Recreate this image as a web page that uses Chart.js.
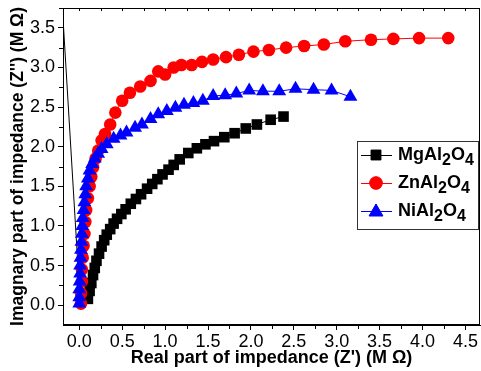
<!DOCTYPE html>
<html>
<head>
<meta charset="utf-8">
<script src="https://cdn.jsdelivr.net/npm/chart.js@4.4.1/dist/chart.umd.min.js"></script>
<style>
  html, body { margin: 0; padding: 0; background: #fff; }
  #wrap { width: 481px; height: 371px; }
</style>
</head>
<body>
<div id="wrap"><canvas id="zChart" width="481" height="371"></canvas></div>
<script>
// Nyquist plot data (M Ohm)
const seriesNames = ['MgAl2O4', 'ZnAl2O4', 'NiAl2O4'];
const seriesColors = ['#000000', '#ff0000', '#0000ff'];

const mgX = [-0.2, 0.01, 0.10, 0.12, 0.14, 0.16, 0.18, 0.20, 0.23, 0.26, 0.29, 0.32, 0.36, 0.40, 0.44, 0.49, 0.54, 0.60, 0.66, 0.72, 0.79, 0.85, 0.91, 0.97, 1.04, 1.10, 1.17, 1.27, 1.37, 1.47, 1.57, 1.69, 1.81, 1.94, 2.07, 2.23, 2.38];
const mgY = [3.8, 0.03, 0.08, 0.18, 0.28, 0.38, 0.47, 0.56, 0.65, 0.74, 0.82, 0.89, 0.96, 1.03, 1.09, 1.15, 1.21, 1.28, 1.34, 1.40, 1.47, 1.53, 1.59, 1.65, 1.71, 1.77, 1.84, 1.92, 1.98, 2.03, 2.07, 2.12, 2.17, 2.23, 2.28, 2.34, 2.38];

const znX = [0.02, 0.02, 0.03, 0.03, 0.04, 0.05, 0.06, 0.07, 0.08, 0.10, 0.12, 0.14, 0.16, 0.19, 0.22, 0.26, 0.30, 0.36, 0.42, 0.50, 0.59, 0.71, 0.83, 0.92, 1.00, 1.10, 1.19, 1.31, 1.43, 1.56, 1.71, 1.86, 2.03, 2.21, 2.41, 2.62, 2.85, 3.10, 3.40, 3.66, 3.96, 4.30];
const znY = [0.02, 0.15, 0.30, 0.45, 0.60, 0.75, 0.90, 1.05, 1.20, 1.35, 1.50, 1.62, 1.74, 1.85, 1.95, 2.08, 2.16, 2.28, 2.43, 2.58, 2.68, 2.76, 2.83, 2.95, 2.91, 3.00, 3.03, 3.03, 3.07, 3.10, 3.13, 3.16, 3.20, 3.22, 3.25, 3.27, 3.29, 3.33, 3.35, 3.36, 3.37, 3.37];

const niX = [0.0, 0.0, 0.0, 0.005, 0.01, 0.01, 0.015, 0.02, 0.025, 0.03, 0.035, 0.04, 0.05, 0.06, 0.07, 0.08, 0.10, 0.12, 0.15, 0.18, 0.22, 0.26, 0.32, 0.40, 0.48, 0.55, 0.65, 0.73, 0.83, 0.92, 1.02, 1.12, 1.22, 1.33, 1.44, 1.56, 1.70, 1.83, 1.98, 2.14, 2.33, 2.52, 2.73, 2.94, 3.16];
const niY = [0.02, 0.10, 0.20, 0.30, 0.40, 0.50, 0.60, 0.70, 0.80, 0.90, 1.00, 1.10, 1.20, 1.30, 1.40, 1.50, 1.60, 1.70, 1.78, 1.85, 1.91, 1.97, 2.03, 2.10, 2.14, 2.18, 2.24, 2.28, 2.35, 2.41, 2.45, 2.49, 2.53, 2.55, 2.58, 2.64, 2.65, 2.67, 2.71, 2.70, 2.70, 2.73, 2.72, 2.71, 2.63];

const xTicks = [0, 0.5, 1.0, 1.5, 2.0, 2.5, 3.0, 3.5, 4.0, 4.5];
const yTicks = [0, 0.5, 1.0, 1.5, 2.0, 2.5, 3.0, 3.5];

const toPoints = (xs, ys) => xs.map((x, i) => ({ x: x, y: ys[i] }));
const FONT = "'Liberation Sans', Arial, sans-serif";

// frame, minor ticks, top ticks
const framePlugin = {
    id: 'frame',
    afterDraw(chart) {
        const { ctx, chartArea: a, scales } = chart;
        ctx.save();
        ctx.strokeStyle = '#000';
        ctx.lineWidth = 1;
        ctx.strokeRect(a.left + 0.5, a.top + 0.5, a.right - a.left - 1, a.bottom - a.top - 1);
        ctx.beginPath();
        for (let v = -0.25; v <= 4.75; v += 0.25) {
            const px = Math.round(scales.x.getPixelForValue(v)) + 0.5;
            if (px < a.left || px > a.right) continue;
            const major = Math.abs(v * 2 - Math.round(v * 2)) < 1e-6;
            if (!major) {
                ctx.moveTo(px, a.bottom);
                ctx.lineTo(px, a.bottom + 4);
            }
            ctx.moveTo(px, a.top);
            ctx.lineTo(px, a.top + 3);
        }
        for (let v = -0.25; v <= 3.75; v += 0.25) {
            const py = Math.round(scales.y.getPixelForValue(v)) + 0.5;
            if (py < a.top || py > a.bottom) continue;
            const major = Math.abs(v * 2 - Math.round(v * 2)) < 1e-6;
            if (!major) {
                ctx.moveTo(a.left, py);
                ctx.lineTo(a.left - 4, py);
            }
        }
        ctx.stroke();
        ctx.restore();
    }
};

function drawFormula(ctx, text, x, y) {
    // digits drawn as subscripts
    let cx = x;
    for (const ch of text) {
        const sub = /[0-9]/.test(ch);
        ctx.font = sub ? 'bold 16px ' + FONT : 'bold 18px ' + FONT;
        ctx.fillText(ch, cx, sub ? y + 6 : y);
        cx += ctx.measureText(ch).width;
    }
}

const legendPlugin = {
    id: 'boxLegend',
    afterDraw(chart) {
        const { ctx } = chart;
        const box = { left: 357, top: 141, width: 121, height: 88 };
        const styles = ['rect', 'circle', 'triangle'];
        const radii = [7, 6.3, 8];
        ctx.save();
        ctx.fillStyle = '#fff';
        ctx.fillRect(box.left, box.top, box.width, box.height);
        ctx.strokeStyle = '#333';
        ctx.lineWidth = 1;
        ctx.strokeRect(box.left + 0.5, box.top + 0.5, box.width, box.height);
        seriesNames.forEach((name, i) => {
            const y = box.top + 14 + i * 28;
            ctx.strokeStyle = seriesColors[i];
            ctx.lineWidth = 1;
            ctx.beginPath();
            ctx.moveTo(box.left + 4, y + 0.5);
            ctx.lineTo(box.left + 35, y + 0.5);
            ctx.stroke();
            ctx.fillStyle = seriesColors[i];
            Chart.helpers.drawPoint(ctx, { pointStyle: styles[i], radius: radii[i], rotation: 0, borderWidth: 1 }, box.left + 19, y + (i === 2 ? 1 : 0));
            ctx.fill();
            ctx.fillStyle = '#000';
            ctx.textBaseline = 'middle';
            ctx.textAlign = 'left';
            drawFormula(ctx, name, box.left + 41, y);
        });
        ctx.restore();
    }
};

const noPad = s => { s.paddingTop = 0; s.paddingBottom = 0; s.paddingLeft = 0; s.paddingRight = 0; };

const ctx = document.getElementById('zChart').getContext('2d');
const zChart = new Chart(ctx, {
    type: 'scatter',
    data: {
        datasets: [
            {
                label: seriesNames[0],
                data: toPoints(mgX, mgY),
                showLine: true,
                borderColor: seriesColors[0],
                backgroundColor: seriesColors[0],
                borderWidth: 1,
                pointStyle: 'rect',
                pointRadius: c => (c.dataIndex < 2 ? 0 : 7.5),
                pointBorderWidth: 0,
                order: 3
            },
            {
                label: seriesNames[1],
                data: toPoints(znX, znY),
                showLine: true,
                borderColor: seriesColors[1],
                backgroundColor: seriesColors[1],
                borderWidth: 1,
                pointStyle: 'circle',
                pointRadius: 6.3,
                pointBorderWidth: 0,
                order: 2
            },
            {
                label: seriesNames[2],
                data: toPoints(niX, niY),
                showLine: true,
                borderColor: seriesColors[2],
                backgroundColor: seriesColors[2],
                borderWidth: 1,
                pointStyle: 'triangle',
                pointRadius: 8,
                pointBorderWidth: 0,
                order: 1
            }
        ]
    },
    options: {
        responsive: false,
        animation: false,
        layout: { autoPadding: false, padding: { top: 8, right: 1, left: 0, bottom: 0 } },
        plugins: {
            legend: { display: false },
            tooltip: { enabled: false }
        },
        scales: {
            x: {
                type: 'linear',
                min: -0.19,
                max: 4.67,
                afterBuildTicks: s => { s.ticks = xTicks.map(v => ({ value: v })); },
                afterFit: s => { s.height = 46; noPad(s); },
                grid: { drawOnChartArea: false, drawTicks: true, tickLength: 5, color: '#000' },
                border: { color: '#000', width: 1 },
                ticks: {
                    color: '#000',
                    font: { family: FONT, size: 18 },
                    padding: 1,
                    maxRotation: 0,
                    callback: v => v.toFixed(1)
                },
                title: {
                    display: true,
                    text: "Real part of impedance (Z') (M \u03A9)",
                    color: '#000',
                    font: { family: FONT, size: 18, weight: 'bold' },
                    padding: { top: 0, bottom: 2 }
                }
            },
            y: {
                type: 'linear',
                min: -0.25,
                max: 3.75,
                afterBuildTicks: s => { s.ticks = yTicks.map(v => ({ value: v })); },
                afterFit: s => { s.width = 63; noPad(s); },
                grid: { drawOnChartArea: false, drawTicks: true, tickLength: 5, color: '#000' },
                border: { color: '#000', width: 1 },
                ticks: {
                    color: '#000',
                    font: { family: FONT, size: 18 },
                    padding: 3,
                    callback: v => v.toFixed(1)
                },
                title: {
                    display: true,
                    text: "Imagnary part of impedance (Z'') (M \u03A9)",
                    color: '#000',
                    font: { family: FONT, size: 17.5, weight: 'bold' },
                    padding: { top: 8, bottom: 0 }
                }
            }
        }
    },
    plugins: [framePlugin, legendPlugin]
});
</script>
</body>
</html>
